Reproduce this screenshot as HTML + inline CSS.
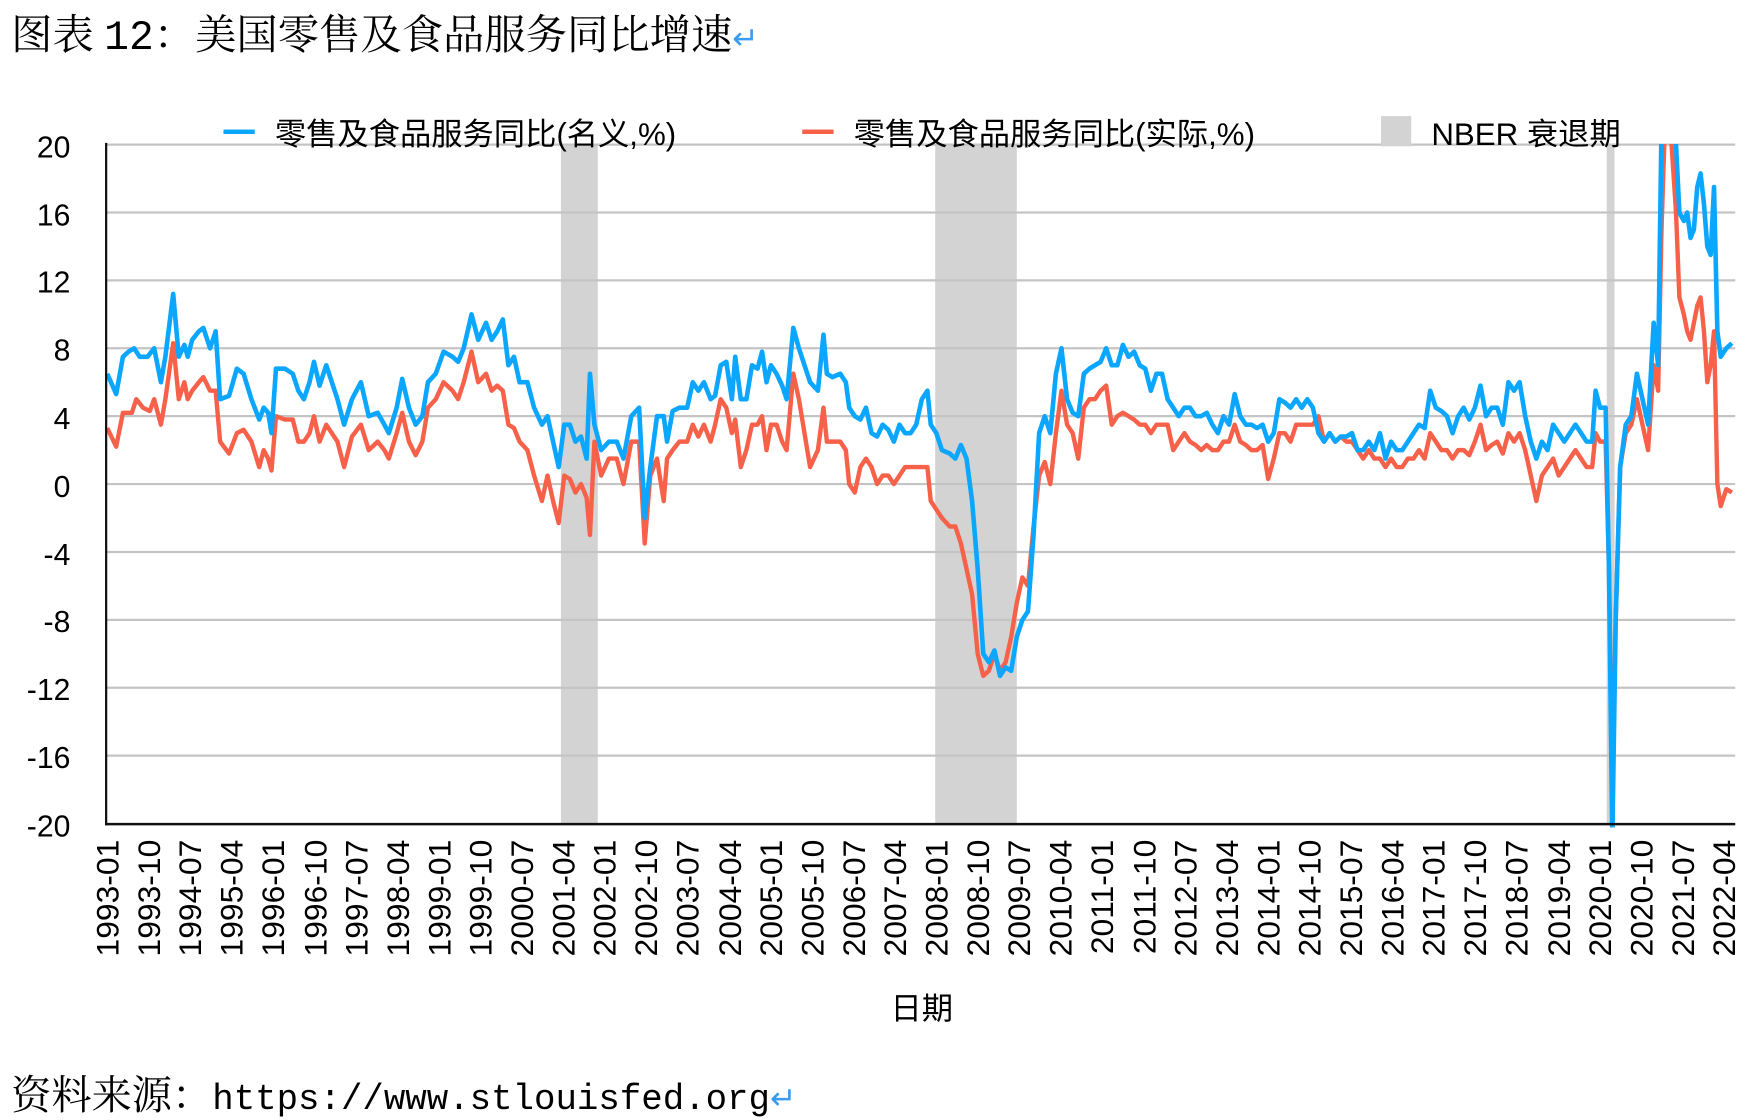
<!DOCTYPE html>
<html><head><meta charset="utf-8"><style>html,body{margin:0;padding:0;background:#fff}svg{display:block}</style></head>
<body>
<svg width="1752" height="1120" viewBox="0 0 1568 1003" preserveAspectRatio="none" xmlns="http://www.w3.org/2000/svg">
<defs><clipPath id="c"><rect x="95" y="129" width="1460" height="612"/></clipPath></defs>
<text x="10" y="44" font-family="'Liberation Serif','Noto Serif CJK SC',serif" font-size="37" fill="#000">图表 <tspan font-family="'Liberation Mono',monospace">12</tspan>：美国零售及食品服务同比增速<tspan fill="#3a9cf0" font-size="28">↵</tspan></text>
<g fill="#d3d3d3"><rect x="502" y="130" width="33" height="608"/><rect x="837" y="130" width="73" height="608"/><rect x="1438" y="130" width="7" height="608"/></g>
<g stroke="#c4c4c4" stroke-width="2">
<line x1="95" x2="1553" y1="129.5" y2="129.5"/><line x1="95" x2="1553" y1="190.3" y2="190.3"/><line x1="95" x2="1553" y1="251.1" y2="251.1"/><line x1="95" x2="1553" y1="311.9" y2="311.9"/><line x1="95" x2="1553" y1="372.7" y2="372.7"/><line x1="95" x2="1553" y1="433.5" y2="433.5"/><line x1="95" x2="1553" y1="494.3" y2="494.3"/><line x1="95" x2="1553" y1="555.1" y2="555.1"/><line x1="95" x2="1553" y1="615.9" y2="615.9"/><line x1="95" x2="1553" y1="676.7" y2="676.7"/></g>
<g font-family="'Liberation Sans',sans-serif" font-size="27" text-anchor="end" fill="#000">
<text x="63" y="141">20</text><text x="63" y="202">16</text><text x="63" y="262">12</text><text x="63" y="323">8</text><text x="63" y="384">4</text><text x="63" y="445">0</text><text x="63" y="506">-4</text><text x="63" y="566">-8</text><text x="63" y="627">-12</text><text x="63" y="688">-16</text><text x="63" y="749">-20</text></g>
<g clip-path="url(#c)"><g transform="matrix(1 0 0 -15.2 0 433.5)" fill="none" stroke-linejoin="round">
<polyline vector-effect="non-scaling-stroke" stroke="#f76049" stroke-width="4.4" points="96,3.3 104,2.2 110,4.2 118,4.2 122,5 128,4.5 134,4.3 138,5 144,3.5 148,5 155,8.3 160,5 165,6 168,5 172,5.5 178,6 182,6.3 188,5.5 193,5.5 197,2.5 205,1.8 212,3 218,3.2 225,2.5 232,1 236,2 240,1.5 243,0.8 247,4 255,3.8 262,3.8 267,2.5 272,2.5 277,3 281,4 286,2.5 292,3.5 297,3 302,2.5 308,1 315,2.8 323,3.5 330,2 338,2.5 344,2 348,1.5 355,3 360,4.2 366,2.5 372,1.7 378,2.5 383,4.5 390,5 397,6 405,5.5 410,5 415,6 422,7.8 428,6 435,6.5 440,5.5 445,5.8 450,5.5 455,3.5 460,3.3 465,2.5 472,2 478,0.5 485,-1 490,0.5 495,-1 500,-2.3 505,0.5 510,0.3 515,-0.5 520,0 525,-0.8 528,-3 532,2.5 538,0.5 545,1.5 552,1.5 558,0 565,2.5 572,2.5 577,-3.5 582,0.5 588,1.5 594,-1 597,1.5 602,2 608,2.5 615,2.5 620,3.5 625,2.8 630,3.5 636,2.5 640,3.5 645,5 650,4.5 655,3 658,3.8 663,1 668,2 673,3.5 678,3.5 682,4 686,2 690,3.5 695,3.5 700,2.5 704,2 710,6.5 715,5 720,3 725,1 732,2 737,4.5 740,2.5 745,2.5 752,2.5 757,2 760,0 765,-0.5 770,1 775,1.5 780,1 785,0 790,0.5 795,0.5 800,0 805,0.5 810,1 815,1 820,1 825,1 830,1 833,-1 838,-1.5 843,-2 850,-2.5 855,-2.5 860,-3.5 865,-5 870,-6.5 875,-10 880,-11.3 885,-11 890,-10 895,-11 900,-10.5 905,-9 910,-7 915,-5.5 920,-6 925,-2.5 930,0.5 935,1.3 940,0 945,3 950,5.5 955,3.5 960,3 965,1.5 970,4.5 975,5 980,5 985,5.5 990,5.8 995,3.5 1000,4 1005,4.2 1010,4 1015,3.8 1020,3.5 1025,3.5 1030,3 1035,3.5 1040,3.5 1045,3.5 1050,2 1055,2.5 1060,3 1065,2.5 1070,2.3 1075,2 1080,2.3 1085,2 1090,2 1095,2.5 1100,2.5 1105,3.5 1110,2.5 1115,2.3 1120,2 1125,2 1130,2.3 1135,0.3 1140,1.5 1145,3 1150,3 1155,2.5 1160,3.5 1165,3.5 1170,3.5 1175,3.5 1180,4 1185,2.5 1190,3 1195,2.5 1200,2.8 1205,2.5 1210,2.5 1215,2 1220,1.5 1225,2 1230,1.5 1235,1.5 1240,1 1245,1.5 1250,1 1255,1 1260,1.5 1265,1.5 1270,2 1275,1.5 1280,3 1285,2.5 1290,2 1295,2 1300,1.5 1305,2 1310,2 1315,1.7 1320,2.5 1325,3.5 1330,2 1335,2.3 1340,2.5 1345,1.8 1350,3 1355,2.5 1360,3 1365,2 1370,0.5 1375,-1 1380,0.5 1385,1 1390,1.5 1395,0.5 1400,1 1405,1.5 1410,2 1415,1.5 1420,1 1425,1 1428,3 1432,2.5 1437,2.5 1440,-5 1443,-19 1446,-8 1450,1 1455,3 1460,3.5 1465,5 1470,3.5 1475,2 1480,7 1484,5.5 1487,15 1490,21 1495,21 1500,16 1503,11 1507,10 1510,9 1513,8.5 1516,9.5 1519,10.5 1522,11 1525,9 1528,6 1531,7 1534,9 1537,0 1540,-1.3 1545,-0.3 1550,-0.5"/>
<polyline vector-effect="non-scaling-stroke" stroke="#0ba6ff" stroke-width="4.6" points="96,6.5 104,5.3 110,7.5 115,7.8 120,8 125,7.5 132,7.5 138,8 144,6 148,7.5 155,11.2 160,7.5 165,8.2 168,7.5 172,8.5 178,9 182,9.2 188,8 193,9 197,5 205,5.2 212,6.8 218,6.5 225,5 232,3.8 236,4.5 240,4.2 243,3 247,6.8 255,6.8 262,6.5 267,5.5 272,5 277,6 281,7.2 286,5.8 292,7 297,6 302,5 308,3.5 315,5 323,6 330,4 338,4.2 344,3.5 348,3 355,4.5 360,6.2 366,4.5 372,3.5 378,4 383,6 390,6.5 397,7.8 405,7.5 410,7.2 415,8 422,10 428,8.5 435,9.5 440,8.5 445,9 450,9.7 455,7 460,7.5 465,6 472,6 478,4.5 485,3.5 490,4 495,2.5 500,1 505,3.5 510,3.5 515,2.5 520,2.8 525,1.5 528,6.5 532,3.5 538,2 545,2.5 552,2.5 558,1.5 565,4 572,4.5 577,-2 582,1 588,4 594,4 597,2.5 602,4.3 608,4.5 615,4.5 620,6 625,5.5 630,6 636,5 640,5.2 645,7 650,7.2 655,5 658,7.5 663,5 668,5 673,7 678,6.8 682,7.8 686,6 690,7 695,6.5 700,5.8 704,5 710,9.2 715,8 720,7 725,6 732,5.5 737,8.8 740,6.5 745,6.3 752,6.5 757,6 760,4.5 765,4 770,3.8 775,4.5 780,3 785,2.8 790,3.5 795,3.2 800,2.5 805,3.5 810,3 815,3 820,3.5 825,5 830,5.5 833,3.5 838,3 843,2 850,1.8 855,1.5 860,2.3 865,1.5 870,-1 875,-5 880,-10 885,-10.5 890,-9.8 895,-11.3 900,-10.8 905,-11 910,-9 915,-8 920,-7.5 925,-3 930,3 935,4 940,3 945,6.5 950,8 955,5 960,4.2 965,4 970,6.5 975,6.8 980,7 985,7.2 990,8 995,7 1000,7 1005,8.2 1010,7.5 1015,7.8 1020,7 1025,6.8 1030,5.5 1035,6.5 1040,6.5 1045,5 1050,4.5 1055,4 1060,4.5 1065,4.5 1070,4 1075,4 1080,4.2 1085,3.5 1090,3 1095,4 1100,3.5 1105,5.3 1110,4 1115,3.5 1120,3.5 1125,3.3 1130,3.5 1135,2.5 1140,3 1145,5 1150,4.8 1155,4.5 1160,5 1165,4.5 1170,5 1175,4.5 1180,3 1185,2.5 1190,3 1195,2.5 1200,2.8 1205,2.8 1210,3 1215,2 1220,2 1225,2.5 1230,2 1235,3 1240,1.5 1245,2.5 1250,2 1255,2 1260,2.5 1265,3 1270,3.5 1275,3.3 1280,5.5 1285,4.5 1290,4.3 1295,4 1300,3 1305,4 1310,4.5 1315,3.8 1320,4.5 1325,5.8 1330,4 1335,4.5 1340,4.5 1345,3.5 1350,6 1355,5.5 1360,6 1365,4 1370,2.5 1375,1.5 1380,2.5 1385,2 1390,3.5 1395,3 1400,2.5 1405,3 1410,3.5 1415,3 1420,2.5 1425,2.5 1428,5.5 1432,4.5 1437,4.5 1440,-5 1443,-21 1446,-8 1450,1 1455,3.5 1460,4 1465,6.5 1470,5 1475,3.5 1480,9.5 1484,7 1487,21 1490,21 1495,21 1500,20 1503,16 1507,15.5 1510,16 1513,14.5 1516,15 1519,17.5 1522,18.3 1525,16.5 1528,14 1531,13.5 1534,17.5 1537,9 1540,7.5 1545,8 1550,8.3"/>
</g></g>
<line x1="95" y1="128" x2="95" y2="739" stroke="#111" stroke-width="2"/>
<line x1="94" y1="738" x2="1553" y2="738" stroke="#111" stroke-width="2.2"/>
<g font-family="'Liberation Sans',sans-serif" font-size="28.5" text-anchor="end" fill="#000">
<text transform="translate(106,752) rotate(-90)">1993-01</text><text transform="translate(143,752) rotate(-90)">1993-10</text><text transform="translate(180,752) rotate(-90)">1994-07</text><text transform="translate(217,752) rotate(-90)">1995-04</text><text transform="translate(254,752) rotate(-90)">1996-01</text><text transform="translate(292,752) rotate(-90)">1996-10</text><text transform="translate(329,752) rotate(-90)">1997-07</text><text transform="translate(366,752) rotate(-90)">1998-04</text><text transform="translate(403,752) rotate(-90)">1999-01</text><text transform="translate(440,752) rotate(-90)">1999-10</text><text transform="translate(477,752) rotate(-90)">2000-07</text><text transform="translate(514,752) rotate(-90)">2001-04</text><text transform="translate(551,752) rotate(-90)">2002-01</text><text transform="translate(588,752) rotate(-90)">2002-10</text><text transform="translate(625,752) rotate(-90)">2003-07</text><text transform="translate(663,752) rotate(-90)">2004-04</text><text transform="translate(700,752) rotate(-90)">2005-01</text><text transform="translate(737,752) rotate(-90)">2005-10</text><text transform="translate(774,752) rotate(-90)">2006-07</text><text transform="translate(811,752) rotate(-90)">2007-04</text><text transform="translate(848,752) rotate(-90)">2008-01</text><text transform="translate(885,752) rotate(-90)">2008-10</text><text transform="translate(922,752) rotate(-90)">2009-07</text><text transform="translate(959,752) rotate(-90)">2010-04</text><text transform="translate(996,752) rotate(-90)">2011-01</text><text transform="translate(1034,752) rotate(-90)">2011-10</text><text transform="translate(1071,752) rotate(-90)">2012-07</text><text transform="translate(1108,752) rotate(-90)">2013-04</text><text transform="translate(1145,752) rotate(-90)">2014-01</text><text transform="translate(1182,752) rotate(-90)">2014-10</text><text transform="translate(1219,752) rotate(-90)">2015-07</text><text transform="translate(1256,752) rotate(-90)">2016-04</text><text transform="translate(1293,752) rotate(-90)">2017-01</text><text transform="translate(1330,752) rotate(-90)">2017-10</text><text transform="translate(1367,752) rotate(-90)">2018-07</text><text transform="translate(1405,752) rotate(-90)">2019-04</text><text transform="translate(1442,752) rotate(-90)">2020-01</text><text transform="translate(1479,752) rotate(-90)">2020-10</text><text transform="translate(1516,752) rotate(-90)">2021-07</text><text transform="translate(1553,752) rotate(-90)">2022-04</text></g>
<g font-family="'Liberation Sans','Noto Sans CJK SC',sans-serif" font-size="28" fill="#000">
<rect x="200" y="116" width="28" height="4" fill="#0ba6ff"/><text x="246" y="130">零售及食品服务同比(名义,%)</text>
<rect x="718" y="116" width="28" height="4" fill="#f76049"/><text x="764" y="130">零售及食品服务同比(实际,%)</text>
<rect x="1236" y="104" width="27" height="27" fill="#d3d3d3"/><text x="1281" y="130">NBER 衰退期</text>
<text x="825" y="913" text-anchor="middle">日期</text></g>
<text x="10" y="993" font-family="'Liberation Serif','Noto Serif CJK SC',serif" font-size="36" fill="#000">资料来源：<tspan font-family="'Liberation Mono',monospace" font-size="32">https://www.stlouisfed.org</tspan><tspan fill="#3a9cf0" font-size="28">↵</tspan></text>
</svg>
</body></html>
